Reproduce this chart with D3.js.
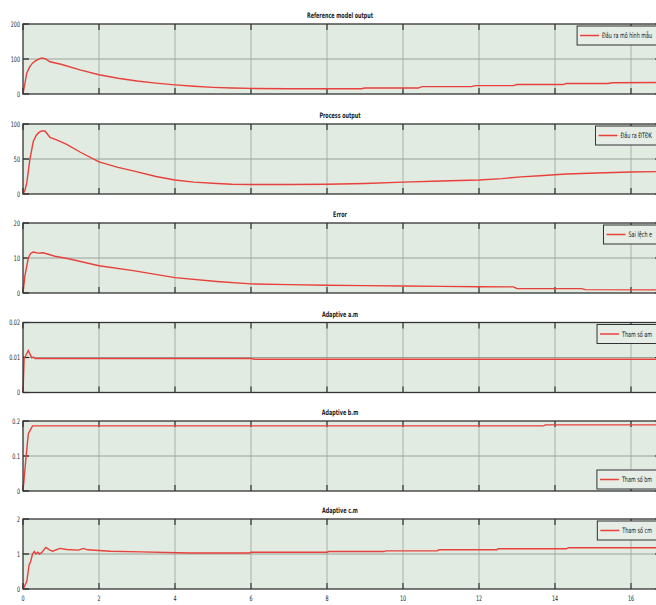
<!DOCTYPE html>
<html><head><meta charset="utf-8">
<script src="https://cdn.jsdelivr.net/npm/d3@7"></script>
<style>
html,body{margin:0;padding:0;background:#fff;overflow:hidden}
svg{display:block}
text{font-family:"DejaVu Sans Condensed","Liberation Sans Narrow",sans-serif}
</style></head>
<body>
<script>
// ---- data ----
const xTicks = [0,2,4,6,8,10,12,14,16];
const titles = ["Reference model output","Process output","Error","Adaptive a.m","Adaptive b.m","Adaptive c.m"];
const legends = ["Đầu ra mô hình mẫu","Đầu ra ĐTĐK","Sai lệch e","Tham số am","Tham số bm","Tham số cm"];
const yTickLabels = [["0","100","200"],["0","50","100"],["0","10","20"],["0","0.01","0.02"],["0","0.1","0.2"],["0","1","2"]];
const yTickValues = [[0,100,200],[0,50,100],[0,10,20],[0,0.01,0.02],[0,0.1,0.2],[0,1,2]];

const refT = [0,0.05,0.1,0.18,0.25,0.32,0.4,0.49,0.58,0.71,1,1.5,2,2.5,3,3.5,4,4.5,5,5.5,6,7,8,8.9,9,10.4,10.5,11.8,11.9,12.9,13,14.2,14.3,15.4,15.5,16.8];
const refV = [0,30,60,78,88,94,99,103,101,92,85,69,55,45,37,31,26,22,19,17,16,15,15,15,17,17,21,21,24,24,27,27,30,30,32,33];

const procT = [0,0.05,0.1,0.18,0.27,0.35,0.42,0.49,0.58,0.65,0.71,0.9,1.15,1.5,2,2.5,2.9,3.5,4,4.5,5.1,5.5,6,7,8,9,10,11,12,12.6,13.1,13.6,14.3,15.1,16,16.8];
const procV = [0,5,16,49,75,84,88,90,90,85,81,77,71,60,46,38,33,25,20,17,15,14,13.5,13.5,14,15,17,18.5,20,22,24.5,26,28.5,30,31.5,32];

const errT = [0,0.05,0.14,0.2,0.27,0.4,0.53,0.84,1.2,2,2.9,4,5.1,6,7,8,9,10,11,12,12.9,13,14.7,14.8,16.8];
const errV = [0,4.9,10,11.3,11.7,11.4,11.5,10.5,9.8,7.8,6.4,4.4,3.3,2.6,2.4,2.2,2.1,2.0,1.9,1.8,1.75,1.3,1.25,0.95,0.9];

const amT = [0,0.03,0.07,0.14,0.2,0.23,0.27,0.32,6,6.1,16.8];
const amV = [0,0.0098,0.0105,0.012,0.0106,0.0099,0.0101,0.0097,0.0097,0.0095,0.0095];

const bmT = [0,0.08,0.14,0.18,0.25,13.7,13.75,16.8];
const bmV = [0,0.096,0.164,0.172,0.186,0.186,0.189,0.189];

const cmT = [0,0.02,0.1,0.16,0.2,0.25,0.3,0.34,0.39,0.43,0.49,0.6,0.71,0.78,0.97,1.15,1.46,1.59,1.7,2,2.3,3.1,4.4,5.97,6,8,8.05,9.5,9.55,10.9,10.95,12.47,12.5,14.3,14.35,16.8];
const cmV = [0,0.03,0.22,0.69,0.78,1.0,1.07,1.0,1.05,1.0,1.04,1.19,1.11,1.08,1.16,1.13,1.11,1.16,1.12,1.1,1.08,1.06,1.03,1.03,1.05,1.05,1.07,1.07,1.09,1.09,1.12,1.12,1.15,1.15,1.18,1.18];

const seriesT = [refT,procT,errT,amT,bmT,cmT];
const seriesV = [refV,procV,errV,amV,bmV,cmV];
const legendPos = ["top","top","top","top","bottom","top"];

// ---- layout ----
const W = 656, H = 605;
const left = 23, right = 661;
const tops = [24,124,223,322.5,421,519];
const ph = 70;
const bg = "#e1ebe2";
const SX = 0.72;

const svg = d3.select("body").append("svg").attr("width",W).attr("height",H);
svg.append("rect").attr("width",W).attr("height",H).attr("fill","#fff");

const x = d3.scaleLinear().domain([0,(right-left)/38]).range([left,right]);

function label(parent, px, py, anchor, size, weight, s){
  const g = parent.append("g").attr("transform",`translate(${px},${py}) scale(${SX},1)`);
  const t = g.append("text").attr("text-anchor",anchor).attr("font-size",size)
    .attr("font-weight",weight).attr("fill","#222").text(s);
  return {g,t};
}

titles.forEach((title,i)=>{
  const top = tops[i], bottom = top+ph;
  const yv = yTickValues[i];
  const y = d3.scaleLinear().domain([yv[0],yv[2]]).range([bottom,top]);
  const g = svg.append("g");
  g.append("rect").attr("x",left).attr("y",top).attr("width",right-left).attr("height",ph).attr("fill",bg);
  g.selectAll(".vg").data(xTicks.filter(d=>d>0)).join("line")
    .attr("x1",d=>x(d)).attr("x2",d=>x(d)).attr("y1",top).attr("y2",bottom)
    .attr("stroke","#a9b2aa").attr("stroke-width",1);
  g.append("line").attr("x1",left).attr("x2",right).attr("y1",y(yv[1])).attr("y2",y(yv[1]))
    .attr("stroke","#98a29a").attr("stroke-width",1);
  const tk = 6;
  g.selectAll(".xt").data(xTicks).join("line")
    .attr("x1",d=>x(d)).attr("x2",d=>x(d)).attr("y1",bottom).attr("y2",bottom-tk)
    .attr("stroke","#333").attr("stroke-width",1.2);
  g.selectAll(".xt2").data(xTicks).join("line")
    .attr("x1",d=>x(d)).attr("x2",d=>x(d)).attr("y1",top).attr("y2",top+tk)
    .attr("stroke","#333").attr("stroke-width",1.2);
  g.selectAll(".yt").data(yv).join("line")
    .attr("x1",left).attr("x2",left+tk).attr("y1",d=>y(d)).attr("y2",d=>y(d))
    .attr("stroke","#222").attr("stroke-width",1.2);
  g.selectAll(".yt2").data(yv).join("line")
    .attr("x1",right).attr("x2",right-tk).attr("y1",d=>y(d)).attr("y2",d=>y(d))
    .attr("stroke","#222").attr("stroke-width",1.2);
  yv.forEach((d,j)=>label(g,left-3,y(d)+2.6,"end",7.5,"normal",yTickLabels[i][j]));
  const pts = seriesT[i].map((t,j)=>[t,seriesV[i][j]]);
  g.append("path").datum(pts)
    .attr("d",d3.line().x(d=>x(d[0])).y(d=>y(d[1])))
    .attr("fill","none").attr("stroke","#e8403a").attr("stroke-width",1.4);
  g.append("rect").attr("x",left).attr("y",top).attr("width",right-left).attr("height",ph)
    .attr("fill","none").attr("stroke","#333").attr("stroke-width",1.3);
  label(svg,(left+right)/2 - 2,top-6,"middle",7.5,"bold",title);
  // legend
  const lg = svg.append("g");
  const lh = 19;
  const ly = legendPos[i]==="top" ? top+2 : bottom-2-lh;
  const rect = lg.append("rect");
  const ln = lg.append("line");
  const L = label(lg,0,ly+lh/2+2.6,"start",7.5,"normal",legends[i]);
  const tw = L.t.node().getComputedTextLength()*SX;
  const boxR = right-3;
  const boxL = boxR - (tw + 31);
  rect.attr("x",boxL).attr("y",ly).attr("width",boxR-boxL).attr("height",lh)
    .attr("fill","#e5ede6").attr("stroke","#333").attr("stroke-width",1);
  ln.attr("x1",boxL+3).attr("x2",boxL+22).attr("y1",ly+lh/2).attr("y2",ly+lh/2)
    .attr("stroke","#e8403a").attr("stroke-width",1.5);
  L.g.attr("transform",`translate(${boxL+25},${ly+lh/2+2.6}) scale(${SX},1)`);
});

xTicks.forEach(d=>label(svg,x(d),tops[5]+ph+12,"middle",7.5,"normal",String(d)));
</script>
</body></html>
